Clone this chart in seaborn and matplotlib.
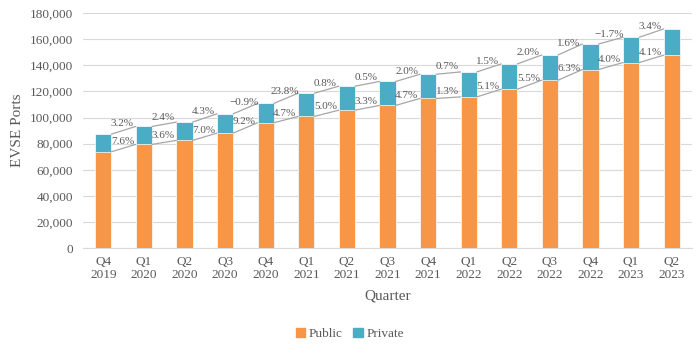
import pandas as pd
import matplotlib.pyplot as plt
import seaborn as sns
from matplotlib.ticker import FuncFormatter
from matplotlib.patches import Patch

# values
quarters = ['Q4\n2019', 'Q1\n2020', 'Q2\n2020', 'Q3\n2020', 'Q4\n2020', 'Q1\n2021', 'Q2\n2021',
            'Q3\n2021', 'Q4\n2021', 'Q1\n2022', 'Q2\n2022', 'Q3\n2022', 'Q4\n2022', 'Q1\n2023', 'Q2\n2023']
public = [73800, 79450, 82500, 88100, 96000, 100850, 105650, 109250, 114600, 115800,
          121700, 128600, 136750, 142100, 147700]
total = [87300, 93200, 96500, 102850, 110800, 118650, 124000, 127600, 133150, 134900,
         141050, 147900, 156300, 161450, 167800]
private = [t - p for t, p in zip(total, public)]
upper_labels = ['3.2%', '2.4%', '4.3%', '\u22120.9%', '23.8%', '0.8%', '0.5%', '2.0%', '0.7%',
                '1.5%', '2.0%', '1.6%', '\u22121.7%', '3.4%']
lower_labels = ['7.6%', '3.6%', '7.0%', '9.2%', '4.7%', '5.0%', '3.3%', '4.7%', '1.3%',
                '5.1%', '5.5%', '6.3%', '4.0%', '4.1%']

df = pd.DataFrame({'Quarter': quarters, 'Public': public, 'Private': private, 'Total': total})

sns.set_style('white')
plt.rcParams['font.family'] = ['Liberation Serif', 'DejaVu Serif']
text_col = '#595959'

fig, ax = plt.subplots(figsize=(7, 3.52), dpi=100)
fig.subplots_adjust(left=0.1186, right=0.9886, top=0.963, bottom=0.295)

sns.barplot(data=df, x='Quarter', y='Total', color='#4BACC6', width=0.4, saturation=1,
            edgecolor='white', linewidth=0.5, ax=ax, zorder=3)
n = len(quarters)
sns.barplot(data=df, x='Quarter', y='Public', color='#F79646', width=0.4, saturation=1,
            edgecolor='white', linewidth=0.5, ax=ax, zorder=3)

tot_bars = ax.patches[:n]
pub_bars = ax.patches[n:2 * n]

# connector lines with growth labels
for bars, labels in [(tot_bars, upper_labels), (pub_bars, lower_labels)]:
    for i in range(n - 1):
        a, b = bars[i], bars[i + 1]
        x0 = a.get_x() + a.get_width()
        x1 = b.get_x()
        y0 = a.get_height()
        y1 = b.get_height()
        ax.plot([x0, x1], [y0, y1], color='#a6a6a6', lw=0.9, zorder=4)
        ax.text((x0 + x1) / 2 - 0.03, (y0 + y1) / 2 + 1500, labels[i], ha='center', va='bottom',
                fontsize=8, color=text_col, zorder=5)

ax.set_ylim(0, 180000)
ax.set_xlim(-0.5, n - 0.5)
ax.set_yticks(range(0, 180001, 20000))
ax.yaxis.set_major_formatter(FuncFormatter(lambda v, p: f'{int(v):,}'))
ax.grid(axis='y', color='#d9d9d9', lw=0.8, zorder=0)
for s in ['top', 'right', 'left']:
    ax.spines[s].set_visible(False)
ax.spines['bottom'].set_color('#d9d9d9')
ax.tick_params(axis='y', length=0, labelsize=9.5, colors=text_col, pad=7)
ax.tick_params(axis='x', length=0, labelsize=9.5, colors=text_col, pad=6)
for t in ax.get_xticklabels():
    t.set_linespacing(1.05)
ax.set_xlabel('Quarter', fontsize=11, color=text_col, labelpad=6)
ax.set_ylabel('EVSE Ports', fontsize=11, color=text_col, labelpad=4)

handles = [Patch(color='#F79646', label='Public'), Patch(color='#4BACC6', label='Private')]
fig.legend(handles=handles, loc='lower center', bbox_to_anchor=(0.5, 0.0), ncol=2, frameon=False,
           fontsize=9.5, handlelength=0.7, handleheight=0.7, handletextpad=0.3, columnspacing=0.8,
           labelcolor=text_col)

plt.savefig('out.png', dpi=100)
